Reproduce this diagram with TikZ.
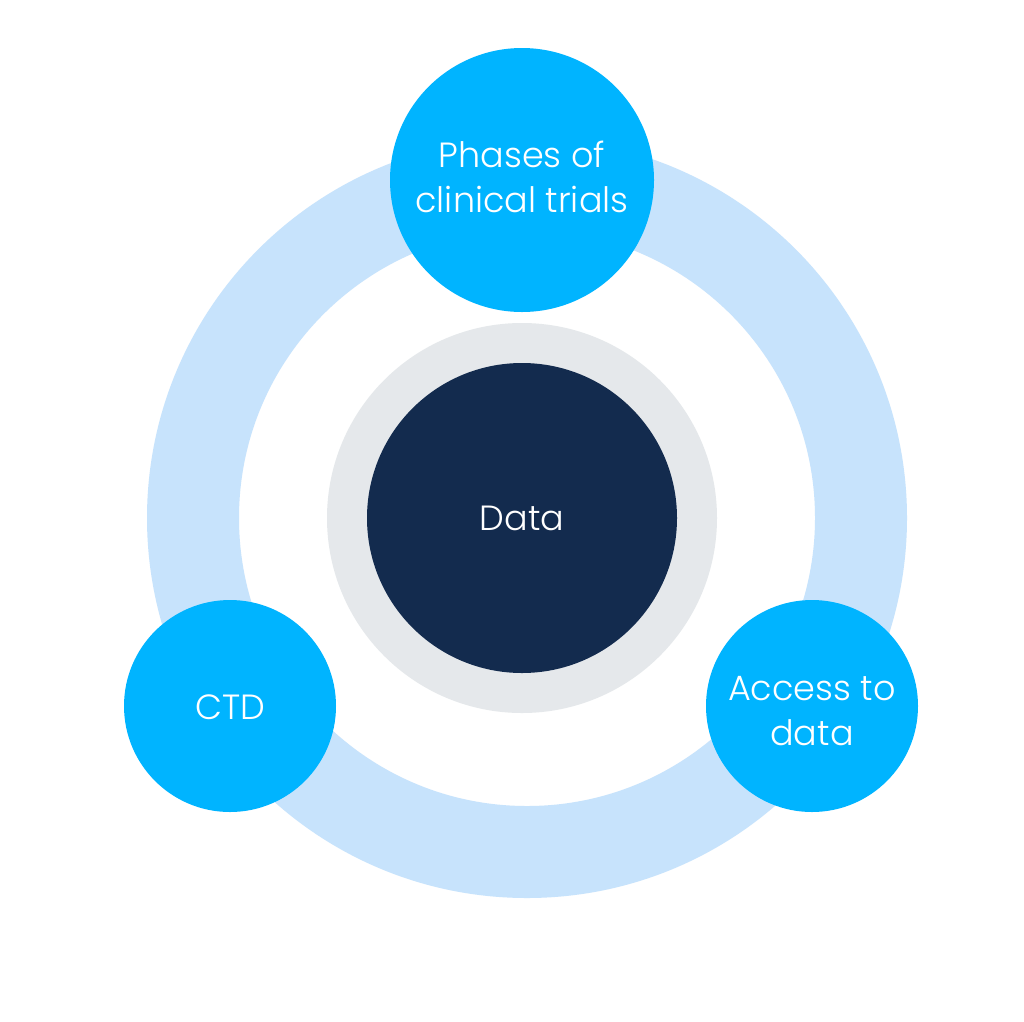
\documentclass[tikz,border=0pt]{standalone}
\usepackage{fontspec}
\setmainfont{Poppins}[UprightFont=* Light]
\definecolor{ringblue}{HTML}{C7E3FC}
\definecolor{cyanc}{HTML}{00B4FF}
\definecolor{grayring}{HTML}{E5E8EB}
\definecolor{navy}{HTML}{132B4E}
\tikzset{
  labelfont/.style={font=\fontsize{35}{45}\selectfont},
  bubble/.style={circle, fill=cyanc, inner sep=0pt},
  bubbletext/.style={text=white, align=center, inner sep=0pt, labelfont},
}
\begin{document}
\begin{tikzpicture}[x=1pt,y=-1pt]
\useasboundingbox (0,0) rectangle (1024,1021);
\fill[white] (0,0) rectangle (1024,1021);
% light ring
\draw[ringblue, line width=92pt] (527,518) circle[radius=334];
% gray ring and core
\fill[grayring] (522,518) circle[radius=195];
\node[circle, fill=navy, minimum size=310pt, inner sep=0pt, text=white, labelfont] (data) at (522,518) {Data};
% satellites
\node[bubble, minimum size=264pt] (phases) at (522,180) {};
\node[bubbletext] (phasestext) at ([yshift=3pt]phases.center) {Phases of\\clinical trials};
\node[bubble, minimum size=212pt] (ctd) at (230,706) {};
\node[bubbletext] (ctdtext) at ([yshift=-1pt]ctd.center) {CTD};
\node[bubble, minimum size=212pt] (access) at (812,706) {};
\node[bubbletext] (accesstext) at ([yshift=-5pt]access.center) {Access to\\data};
\end{tikzpicture}
\end{document}
